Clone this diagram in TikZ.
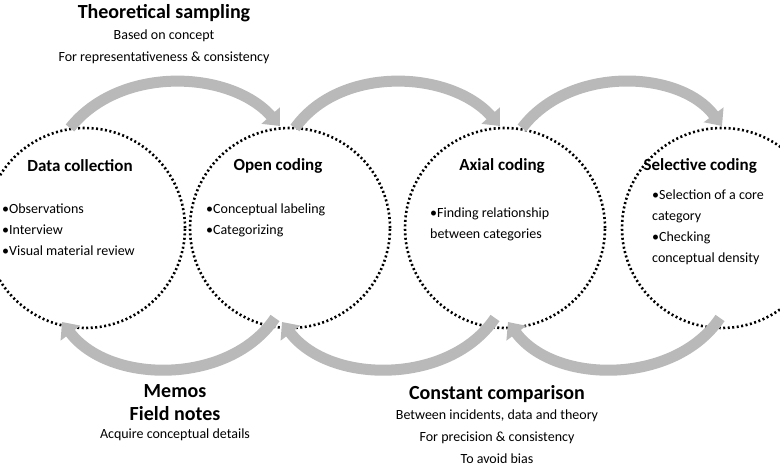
\documentclass[tikz,border=0pt]{standalone}
\usepackage{fontspec}
\setmainfont{Carlito}
\usetikzlibrary{arrows.meta,positioning}

\tikzset{
  stage/.style={circle,draw,dash pattern=on 2pt off 2.5pt,line width=2.6pt,minimum size=200pt,inner sep=0pt},
  flow/.style={draw=gray!55,line width=11pt,-{Triangle[length=14pt,width=24pt]}},
  head/.style={font=\bfseries\fontsize{17}{20}\selectfont,align=left},
  items/.style={font=\fontsize{14}{21}\selectfont,align=left,anchor=north west,inner sep=0pt},
  title/.style={font=\bfseries\fontsize{20}{23}\selectfont,align=center,inner sep=0pt},
  note/.style={font=\fontsize{14}{22}\selectfont,align=center,inner sep=0pt}
}

\begin{document}
\begin{tikzpicture}[x=1pt,y=-1pt]
  \useasboundingbox (0,0) rectangle (780,470);
  \clip (0,0) rectangle (780,470);
  % circles
  \node[stage] (dc) at (85,228) {};
  \node[stage] (oc) at (290,228) {};
  \node[stage] (ac) at (505,228) {};
  \node[stage] (sc) at (722,228) {};
  % top arcs
  \coordinate (t1) at (70,128);   \coordinate (t2) at (280,126);
  \coordinate (t3) at (295,128);  \coordinate (t4) at (500,126);
  \coordinate (t5) at (522,128);  \coordinate (t6) at (722,126);
  \draw[flow] (t1) .. controls (120,65) and (230,70) .. (t2);
  \draw[flow] (t3) .. controls (340,65) and (450,70) .. (t4);
  \draw[flow] (t5) .. controls (570,65) and (680,70) .. (t6);
  % bottom arcs
  \coordinate (b1) at (275,318);  \coordinate (b2) at (62,322);
  \coordinate (b3) at (495,318);  \coordinate (b4) at (282,322);
  \coordinate (b5) at (720,318);  \coordinate (b6) at (508,322);
  \draw[flow] (b1) .. controls (230,385) and (110,385) .. (b2);
  \draw[flow] (b3) .. controls (450,385) and (330,385) .. (b4);
  \draw[flow] (b5) .. controls (675,385) and (555,385) .. (b6);
  % headings
  \node[head] (dch) at (80,166) {Data collection};
  \node[head] (och) at (278,166) {Open coding};
  \node[head] (ach) at (502,166) {Axial coding};
  \node[head,anchor=west] (sch) at (640,166) {Selective coding};
  % items
  \node[items] (dci) at (2,204) {•Observations\\•Interview\\•Visual material review};
  \node[items] (oci) at (206,204) {•Conceptual labeling\\•Categorizing};
  \node[items] (aci) at (430,208) {•Finding relationship\\ between categories};
  \node[items] (sci) at (652,190) {•Selection of a core\\ category\\•Checking\\ conceptual density};
  % notes
  \node[title] (ts) at (164,13) {Theoretical sampling};
  \node[note,below=8pt of ts] (tsn) {Based on concept\\For representativeness \& consistency};
  \node[title] (mf) at (175,403) {Memos\\Field notes};
  \node[note,below=7pt of mf] (mfn) {Acquire conceptual details};
  \node[title] (cc) at (497,394) {Constant comparison};
  \node[note,below=7pt of cc] (ccn) {Between incidents, data and theory\\For precision \& consistency\\To avoid bias};
\end{tikzpicture}
\end{document}
